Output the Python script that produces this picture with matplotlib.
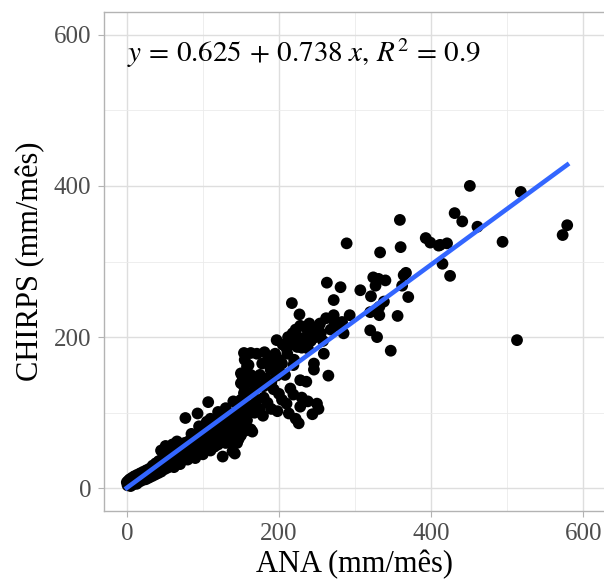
import numpy as np
import matplotlib.pyplot as plt

plt.rcParams['font.family'] = ['Liberation Serif', 'DejaVu Serif']
plt.rcParams['mathtext.fontset'] = 'stix'

# monthly rainfall, ANA gauge vs CHIRPS (mm/mes)
ana = [0, 1, 2, 3, 4, 5, 6, 7, 8, 9, 10, 11, 12, 13, 14, 15, 16, 17, 18, 19,
       20, 21, 22, 23, 24, 25, 26, 27, 28, 29, 30, 31, 32, 33, 34, 35, 36, 37, 38, 39,
       40, 41, 42, 43, 44, 45, 46, 47, 48, 49, 50, 51, 52, 53, 54, 55, 56, 57, 58, 59,
       60, 61, 62, 63, 64, 65, 66, 67, 68, 70, 71, 72, 73, 75, 76, 77, 78, 80, 81, 82,
       84, 85, 86, 87, 88, 90, 91, 92, 93, 95, 96, 97, 99, 100, 101, 102, 104, 105, 107, 108,
       110, 111, 113, 114, 116, 118, 120, 121, 123, 125, 127, 128, 130, 132, 134, 135, 137, 140, 142, 143,
       145, 148, 150, 152, 155, 158, 51, 45, 60, 66,
       62, 70, 80, 90, 100, 110, 115, 120, 130, 135, 140, 150, 155, 85, 95, 110, 120, 130, 125, 105,
       77, 107, 93, 126, 142, 165, 145, 179, 226, 250, 213, 198, 228, 236, 246, 215, 204, 185, 193, 158,
       163, 154, 150, 171, 189, 204, 219, 239, 252, 272, 132, 119, 145, 106, 97,
       140, 152, 145, 163, 147, 139, 160, 163, 150, 150, 193, 199, 197, 235, 228, 180, 154, 219,
       155, 158, 166, 170, 175, 178, 183, 186, 190, 195, 200, 205, 208, 210, 212, 215, 218, 220, 222, 225,
       228, 232, 235, 238, 242, 248, 255, 258, 262, 268, 275, 230, 238, 244, 252, 222, 210, 200, 190, 175,
       168, 160, 155, 165, 180,
       217, 227, 263, 272, 197, 154, 163, 171, 181, 211, 224, 230, 240, 246, 254, 272, 281, 259, 246, 265,
       359, 289, 360, 333, 393, 399, 410, 324, 331, 340, 327, 364, 367, 362, 370, 281, 307, 321, 338, 332,
       320, 332, 293, 283, 356, 320, 329, 347, 285,
       451, 518, 431, 441, 461, 421, 412, 494, 579, 573, 415, 425, 513]

chirps = [8, 4, 10, 6, 12, 3, 9, 14, 5, 11, 16, 8, 13, 6, 18, 10, 15, 9, 20, 12,
          16, 11, 22, 14, 19, 12, 24, 17, 21, 14, 26, 19, 23, 16, 30, 21, 27, 18, 33, 24,
          29, 20, 36, 27, 31, 22, 38, 29, 34, 25, 42, 31, 36, 27, 45, 33, 38, 29, 48, 35,
          41, 31, 52, 38, 44, 33, 55, 40, 47, 36, 58, 43, 50, 39, 60, 46, 53, 42, 62, 49,
          56, 45, 66, 52, 59, 47, 70, 55, 62, 50, 73, 58, 66, 53, 76, 61, 69, 56, 80, 64,
          72, 58, 84, 67, 75, 62, 88, 70, 79, 65, 92, 74, 83, 70, 96, 78, 88, 74, 100, 82,
          93, 78, 105, 86, 110, 90, 56, 50, 58, 62,
          28, 32, 38, 40, 45, 50, 55, 58, 60, 62, 66, 70, 76, 72, 82, 92, 101, 106, 96, 88,
          93, 114, 99, 42, 46, 75, 60, 96, 86, 112, 99, 102, 108, 141, 157, 132, 117, 113, 131, 161,
          148, 135, 117, 117, 157, 165, 163, 205, 213, 222, 100, 82, 86, 82, 78,
          115, 148, 91, 78, 65, 49, 163, 150, 152, 139, 165, 156, 149, 213, 143, 135, 126, 124,
          170, 140, 128, 138, 150, 165, 145, 170, 140, 178, 170, 190, 150, 185, 200, 190, 205, 170, 210, 200,
          215, 195, 200, 185, 195, 200, 205, 195, 225, 210, 215, 120, 115, 98, 105, 92, 112, 125, 105, 105,
          100, 100, 95, 110, 120,
          245, 230, 272, 249, 196, 179, 179, 178, 180, 178, 187, 186, 218, 209, 218, 229, 218, 178, 165, 149,
          355, 324, 319, 312, 331, 325, 321, 279, 277, 275, 268, 282, 285, 268, 253, 266, 262, 254, 247, 240,
          233, 229, 229, 220, 228, 209, 200, 182, 205,
          400, 392, 364, 353, 346, 324, 322, 326, 348, 335, 297, 281, 196]

intercept = 0.625
slope = 0.738
r2 = 0.9

x = np.array(ana)
y = np.array(chirps)

fig = plt.figure(figsize=(6.04, 5.83), dpi=100)
ax = fig.add_axes([104 / 604, 72 / 583, 502 / 604, 499 / 583])

ax.set_xlim(-30, 630)
ax.set_ylim(-30, 630)
ax.set_xticks([0, 200, 400, 600])
ax.set_yticks([0, 200, 400, 600])
ax.set_xticks([100, 300, 500], minor=True)
ax.set_yticks([100, 300, 500], minor=True)
ax.grid(which='major', color='#DEDEDE', linewidth=1.0)
ax.grid(which='minor', color='#EBEBEB', linewidth=0.6)
ax.set_axisbelow(True)
for s in ax.spines.values():
    s.set_color('#B3B3B3')
    s.set_linewidth(1.0)
ax.tick_params(which='major', length=4, color='#B3B3B3', labelsize=18,
               labelcolor='#4D4D4D', pad=5)
ax.tick_params(which='minor', length=0)

ax.scatter(x, y, s=72, color='black', edgecolors='none', zorder=3)

xs = np.array([x.min(), x.max()])
ax.plot(xs, intercept + slope * xs, color='#3366FF', linewidth=3.3, zorder=4)

ax.text(0, 575, r'$y\,=\,0.625\,+\,0.738\;x,\,R^2\,=\,0.9$', fontsize=21,
        ha='left', va='center')

ax.set_xlabel('ANA (mm/mês)', fontsize=22, labelpad=3)
ax.set_ylabel('CHIRPS (mm/mês)', fontsize=22, labelpad=6)

fig.savefig('out.png', dpi=100)
